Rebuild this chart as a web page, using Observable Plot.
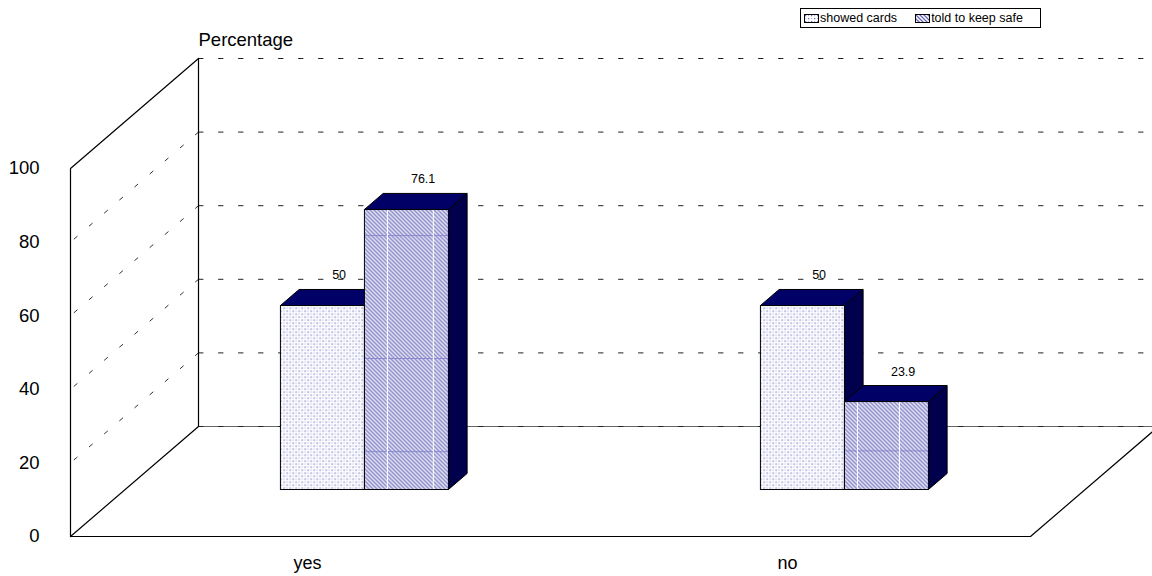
<!DOCTYPE html>
<html>
<head>
<meta charset="utf-8">
<script src="https://cdn.jsdelivr.net/npm/d3@7"></script>
<script src="https://cdn.jsdelivr.net/npm/@observablehq/plot@0.6"></script>
<style>
html,body{margin:0;padding:0;background:#fff;overflow:hidden}
#wrap{position:relative;width:1152px;height:576px}
#legend{position:absolute;left:800px;top:8px;width:236px;height:18px;border:1px solid #000;background:#fff;font:12.5px "Liberation Sans",Arial,sans-serif;color:#000;display:flex;align-items:center;padding-left:3px;box-sizing:content-box;white-space:nowrap}
#legend .it{display:flex;align-items:center;flex:none;margin-right:18px}
#legend svg{display:block;flex:none;margin-right:1px}
</style>
</head>
<body>
<div id="wrap"></div>
<script>
const categories = ["yes", "no"];
const seriesNames = ["showed cards", "told to keep safe"];
const showedCards = [50, 50];
const toldToKeepSafe = [76.1, 23.9];
const yTicks = [0, 20, 40, 60, 80, 100];
const yTitle = "Percentage";
// artefacts of the pattern tiling seen on the hatched bars
const tileRows = [[69, 35.6, 10.3], [10.5]];
const tileCols = [[0.274, 0.82], [0.155, 0.655]];

// oblique projection of (position, value, depth) on the chart's x and y scales
const depthX = 128 / 480, depthY = 110 / 3.68;
const barW = 0.175, d0 = 0.427, d1 = 0.573, barShift = -0.0015;
const P = (u, v, d) => ({x: u + d * depthX, y: v + d * depthY});
const poly = (pts) => [...pts, pts[0]];

const navyTop = "#000066", navySide = "#00004d";
const fills = ["url(#dots)", "url(#hatch)"];
const lineOpts = {x: "x", y: "y"};

const marks = [];
marks.push(() => d3.create("svg:defs").html(`
<pattern id="hatch" patternUnits="userSpaceOnUse" width="4" height="4">
<rect width="4" height="4" fill="#fff"/>
<path d="M-1,-1L5,5M-1,3L1,5M3,-1L5,1" stroke="#6a6abc" stroke-width="1.3" fill="none"/>
</pattern>
<pattern id="dots" patternUnits="userSpaceOnUse" width="6" height="6">
<rect width="6" height="6" fill="#fff"/>
<rect x="1" y="1" width="1.3" height="1.3" fill="#7070c0"/>
<rect x="4" y="4" width="1.3" height="1.3" fill="#7070c0"/>
<rect x="4" y="1" width="1.2" height="1.2" fill="#b8b8e2"/>
<rect x="1" y="4" width="1.2" height="1.2" fill="#b8b8e2"/>
</pattern>`).node());

// solid floor edge on the back wall
marks.push(Plot.line([P(0, 0, 1), P(2, 0, 1)], {...lineOpts, stroke: "#666", strokeWidth: 1}));
// back wall gridlines and left wall gridlines
for (const t of yTicks) {
  marks.push(Plot.line([P(0, t, 1), P(2, t, 1)], {...lineOpts, stroke: "#222", strokeWidth: 1, strokeDasharray: "4.5,15.5"}));
  if (t > 0 && t < 100) marks.push(Plot.line([P(0, t, 1), P(0, t, 0)], {...lineOpts, stroke: "#333", strokeWidth: 1, strokeDasharray: "4,16"}));
}
// walls and floor frame
marks.push(Plot.line(poly([P(0, 0, 0), P(0, 100, 0), P(0, 100, 1), P(0, 0, 1)]), {...lineOpts, stroke: "#000", strokeWidth: 1.2}));
marks.push(Plot.line([P(0, 0, 0), P(2, 0, 0), P(2, 0, 1)], {...lineOpts, stroke: "#000", strokeWidth: 1.2}));

// bars
categories.forEach((c, i) => {
  [showedCards[i], toldToKeepSafe[i]].forEach((v, s) => {
    const a = i + 0.5 - barW + s * barW + barShift, b = a + barW;
    const edge = {stroke: "#000", strokeWidth: 1};
    marks.push(Plot.line(poly([P(a, v, d0), P(b, v, d0), P(b, v, d1), P(a, v, d1)]), {...lineOpts, ...edge, fill: navyTop}));
    marks.push(Plot.line(poly([P(b, 0, d0), P(b, v, d0), P(b, v, d1), P(b, 0, d1)]), {...lineOpts, ...edge, fill: navySide}));
    marks.push(Plot.line(poly([P(a, 0, d0), P(b, 0, d0), P(b, v, d0), P(a, v, d0)]), {...lineOpts, fill: fills[s]}));
    if (s === 1) {
      for (const r of tileRows[i]) marks.push(Plot.line([P(a, r, d0), P(b, r, d0)], {...lineOpts, stroke: "#8a8ad2", strokeWidth: 1}));
      for (const f of tileCols[i]) marks.push(Plot.line([P(a + f * barW, 0, d0), P(a + f * barW, v, d0)], {...lineOpts, stroke: "#fff", strokeWidth: 1}));
    }
    marks.push(Plot.line(poly([P(a, 0, d0), P(b, 0, d0), P(b, v, d0), P(a, v, d0)]), {...lineOpts, ...edge}));
    const lab = P(a + barW / 2, v, d1);
    marks.push(Plot.text([{...lab, t: String(v)}], {...lineOpts, text: "t", dx: -2, dy: -14, fontSize: 12.5, fill: "#000"}));
  });
  marks.push(Plot.text([{...P(i + 0.5, 0, 0), t: c}], {...lineOpts, text: "t", dx: -3, dy: 27, fontSize: 18, fill: "#000"}));
});

marks.push(Plot.axisY({ticks: yTicks, tickSize: 0, tickPadding: 31, fontSize: 18.5, label: null, tickFormat: d => String(d), color: "#000"}));
marks.push(Plot.text([{...P(0, 100, 1), t: yTitle}], {...lineOpts, text: "t", textAnchor: "start", dy: -18, fontSize: 18.5, fill: "#000"}));

const chart = Plot.plot({
  width: 1152, height: 576,
  marginLeft: 70, marginRight: 122, marginTop: 168, marginBottom: 40,
  x: {domain: [0, 2], axis: null},
  y: {domain: [0, 100], axis: null},
  style: {fontFamily: '"Liberation Sans", Arial, sans-serif', background: "#fff", color: "#000"},
  marks
});
const wrap = document.getElementById("wrap");
wrap.appendChild(chart);

const legend = document.createElement("div");
legend.id = "legend";
seriesNames.forEach((n, i) => {
  const it = document.createElement("div");
  it.className = "it";
  it.innerHTML = `<svg width="15" height="9"><rect x="0.5" y="0.5" width="14" height="8" fill="${fills[i]}" stroke="#000"/></svg><span></span>`;
  it.querySelector("span").textContent = n;
  legend.appendChild(it);
});
wrap.appendChild(legend);
</script>
</body>
</html>
